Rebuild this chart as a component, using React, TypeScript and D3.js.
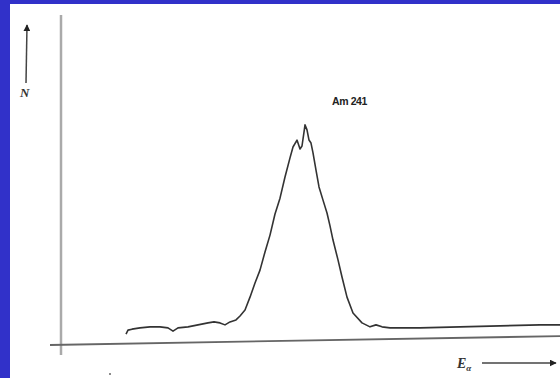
import React, { useRef, useEffect } from 'react';
import * as d3 from 'd3';

// spectrum (energy in arbitrary channels, counts in arbitrary units)
const energy = [
  13.0, 13.4, 14.2, 15.8, 17.8, 19.8, 21.4, 22.4, 23.4, 25.4, 27.4, 29.4, 30.6, 31.8,
  32.8, 33.8, 35.0, 35.8, 36.8, 37.8, 38.8, 39.8, 40.8, 41.8, 42.8, 43.8, 44.8, 45.8,
  46.4, 47.2, 47.8, 48.2, 48.6, 48.8, 49.2, 49.6, 50.0, 50.4, 51.0, 51.6, 52.4, 53.2,
  53.8, 54.4, 55.4, 56.2, 57.2, 58.4, 60.2, 61.8, 63.0, 64.2, 65.8, 71.8, 79.8, 87.8,
  95.8, 99.8,
];
const counts = [
  3.3, 4.5, 4.8, 5.2, 5.5, 5.5, 5.2, 4.2, 5.2, 5.5, 6.1, 6.7, 7.0, 6.7,
  6.1, 7.0, 7.6, 8.8, 10.6, 14.5, 18.8, 22.7, 28.2, 33.3, 39.7, 44.5, 50.9, 56.7,
  60.0, 62.1, 59.4, 60.3, 64.5, 66.7, 65.2, 62.1, 61.2, 58.2, 53.0, 47.9, 43.9, 40.0,
  36.1, 31.8, 25.8, 20.6, 14.5, 9.7, 6.7, 5.5, 6.1, 5.5, 5.2, 5.2, 5.5, 5.8,
  6.1, 6.1,
];
const isotope = 'Am 241';

const width = 560;
const height = 378;

const App = () => {
  const svgRef = useRef<SVGSVGElement>(null);

  useEffect(() => {
    const svg = d3.select(svgRef.current);
    svg.selectAll('*').remove();

    // blue slide frame
    svg.append('rect').attr('width', width).attr('height', height).attr('fill', '#3131c9');
    svg.append('rect').attr('x', 10).attr('y', 4).attr('width', width - 10).attr('height', height - 4).attr('fill', '#fff');

    const x = d3.scaleLinear().domain([0, 100]).range([61, 561]);
    const y = d3.scaleLinear().domain([0, 100]).range([345, 15]);

    // axes (scanned, x axis slightly tilted)
    svg.append('line')
      .attr('x1', x(0)).attr('y1', y(-3))
      .attr('x2', x(0)).attr('y2', y(100))
      .attr('stroke', '#aaa').attr('stroke-width', 2.5);
    svg.append('line')
      .attr('x1', x(-2.2)).attr('y1', y(0))
      .attr('x2', x(100)).attr('y2', y(2.7))
      .attr('stroke', '#666').attr('stroke-width', 1.8);

    const data = energy.map((e, i) => ({ e, c: counts[i] }));
    const line = d3.line<{ e: number; c: number }>()
      .x(d => x(d.e))
      .y(d => y(d.c));

    svg.append('path')
      .datum(data)
      .attr('d', line)
      .attr('fill', 'none')
      .attr('stroke', '#333')
      .attr('stroke-width', 1.6)
      .attr('stroke-linejoin', 'round');

    svg.append('text')
      .attr('x', 332).attr('y', 105)
      .attr('font-family', 'Liberation Sans, Arial, sans-serif')
      .attr('font-size', 10.5)
      .attr('font-weight', 'bold')
      .attr('letter-spacing', -0.4)
      .attr('fill', '#222')
      .text(isotope);

    // arrow markers
    const defs = svg.append('defs');
    defs.append('marker')
      .attr('id', 'arr')
      .attr('viewBox', '0 0 10 10')
      .attr('refX', 9).attr('refY', 5)
      .attr('markerWidth', 7).attr('markerHeight', 7)
      .attr('markerUnits', 'userSpaceOnUse')
      .attr('orient', 'auto')
      .append('path').attr('d', 'M0,0L10,5L0,10Z').attr('fill', '#222');

    // N arrow
    svg.append('line')
      .attr('x1', 26).attr('y1', 83).attr('x2', 27).attr('y2', 25)
      .attr('stroke', '#444').attr('stroke-width', 1.5)
      .attr('marker-end', 'url(#arr)');
    svg.append('text')
      .attr('x', 20).attr('y', 97)
      .attr('font-family', 'Liberation Serif, serif')
      .attr('font-style', 'italic').attr('font-weight', 'bold')
      .attr('font-size', 13)
      .attr('fill', '#333')
      .text('N');

    // E_alpha arrow
    const ea = svg.append('text')
      .attr('x', 457).attr('y', 368)
      .attr('font-family', 'Liberation Serif, serif')
      .attr('font-style', 'italic').attr('font-weight', 'bold')
      .attr('font-size', 14)
      .attr('fill', '#333');
    ea.append('tspan').text('E');
    ea.append('tspan').attr('font-size', 9).attr('dy', 3).text('α');
    svg.append('line')
      .attr('x1', 482).attr('y1', 363).attr('x2', 556).attr('y2', 363)
      .attr('stroke', '#444').attr('stroke-width', 1.5)
      .attr('marker-end', 'url(#arr)');

    svg.append('circle').attr('cx', 110).attr('cy', 374).attr('r', 1).attr('fill', '#666');
  }, []);

  return (
    <svg
      ref={svgRef}
      width={width}
      height={height}
      style={{ position: 'absolute', left: 0, top: 0 }}
    />
  );
};

export default App;
